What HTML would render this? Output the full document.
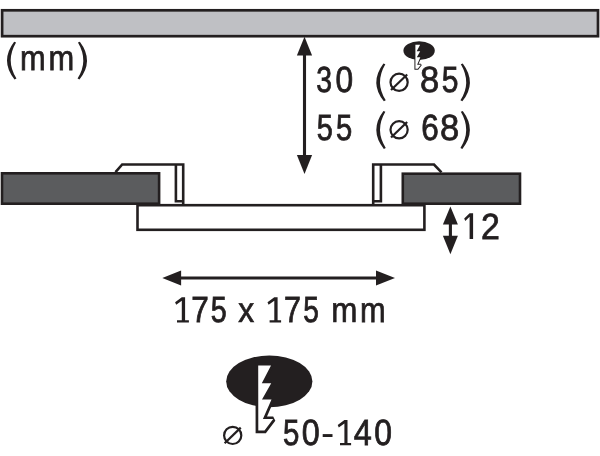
<!DOCTYPE html>
<html>
<head>
<meta charset="utf-8">
<title>Dimensions</title>
<style>
html,body{margin:0;padding:0;background:#fff;}
body{width:600px;height:456px;overflow:hidden;font-family:"Liberation Sans",sans-serif;}
svg{display:block;will-change:transform;}
text{font-family:"Liberation Sans",sans-serif;fill:#231f20;text-rendering:geometricPrecision;stroke:#231f20;}
</style>
</head>
<body>
<svg width="600" height="456" viewBox="0 0 600 456">
<rect width="600" height="456" fill="#ffffff"/>
<!-- ceiling -->
<rect x="2.1" y="10.3" width="595.9" height="25.9" fill="#bfc0c4" stroke="#231f20" stroke-width="2.7"/>

<!-- vertical arrow 30/55 -->
<line x1="304.5" y1="50" x2="304.5" y2="160" stroke="#231f20" stroke-width="3.1"/>
<polygon points="304.5,36.8 312.1,55.4 296.9,55.4" fill="#231f20"/>
<polygon points="304.5,173.9 312.1,154.9 296.9,154.9" fill="#231f20"/>

<!-- left dark block -->
<rect x="2" y="173.3" width="157.1" height="30.4" fill="#5b5c5e" stroke="#231f20" stroke-width="2.6"/>
<!-- left clip -->
<path d="M115.5,172.2 L122.2,164.5 L183.2,164.5 L183.2,205 M175.9,164.5 L175.9,201.3 L183.2,201.3" fill="none" stroke="#231f20" stroke-width="2.6"/>
<!-- right dark block -->
<rect x="402.8" y="173.7" width="117.2" height="30.0" fill="#5b5c5e" stroke="#231f20" stroke-width="2.6"/>
<!-- right clip -->
<path d="M441.5,172.4 L434,164.5 L373.2,164.5 L373.2,205 M380.9,164.5 L380.9,201.3 L373.2,201.3" fill="none" stroke="#231f20" stroke-width="2.6"/>
<!-- panel -->
<rect x="137.5" y="205.2" width="286.9" height="24.6" fill="#ffffff" stroke="#231f20" stroke-width="2.6"/>

<!-- 12 arrow -->
<line x1="450.4" y1="215" x2="450.4" y2="245" stroke="#231f20" stroke-width="3.1"/>
<polygon points="450.4,206.4 457.9,224.5 442.9,224.5" fill="#231f20"/>
<polygon points="450.4,254.3 457.9,235.8 442.9,235.8" fill="#231f20"/>

<!-- horizontal arrow -->
<line x1="175" y1="278" x2="384" y2="278" stroke="#231f20" stroke-width="2.9"/>
<polygon points="162.3,278 181.1,270.4 181.1,285.6" fill="#231f20"/>
<polygon points="395,278 376,270.4 376,285.6" fill="#231f20"/>

<!-- bottom saw symbol -->
<g>
<ellipse cx="269.3" cy="381.4" rx="43.1" ry="25.9" fill="#231f20"/>
<path d="M258.2,365.4 L271.0,365.4 L261.8,383.2 L271.2,383.2 L262.0,399.4 L271.5,399.4 L262.9,419.1 L273.2,419.1 L264.5,430.5 L258.3,430.5 Z" fill="none" stroke="#231f20" stroke-width="5.4" stroke-linejoin="miter" stroke-miterlimit="1.6"/>
<path d="M258.2,365.4 L271.0,365.4 L261.8,383.2 L271.2,383.2 L262.0,399.4 L271.5,399.4 L262.9,419.1 L273.2,419.1 L264.5,430.5 L258.3,430.5 Z" fill="#ffffff"/>
</g>

<!-- small saw symbol -->
<ellipse cx="419.1" cy="50.7" rx="15.7" ry="9.35" fill="#231f20"/>
<g transform="translate(419.5,50.7) scale(0.37) translate(-269.3,-381.4)">
<path d="M258.2,365.4 L271.0,365.4 L261.8,383.2 L271.2,383.2 L262.0,399.4 L271.5,399.4 L262.9,419.1 L273.2,419.1 L264.5,430.5 L258.3,430.5 Z" fill="none" stroke="#231f20" stroke-width="5.4" stroke-linejoin="miter" stroke-miterlimit="1.6"/>
<path d="M258.2,365.4 L271.0,365.4 L261.8,383.2 L271.2,383.2 L262.0,399.4 L271.5,399.4 L262.9,419.1 L273.2,419.1 L264.5,430.5 L258.3,430.5 Z" fill="#ffffff"/>
</g>

<!-- labels -->
<path transform="translate(-0.05,41.70) scale(1,0.9895) translate(0,-41.6)" d="M14.2,41.6 Q-0.3,61 14.6,79.8 L16.5,78.8 Q5.2,61 16.1,42.4 Z" fill="#231f20"/>
<text transform="translate(19.90,69.80) scale(0.8758,1)" font-size="35.2" stroke-width="0.75">m</text>
<text transform="translate(48.40,69.80) scale(0.8758,1)" font-size="35.2" stroke-width="0.75">m</text>
<path transform="translate(94.05,41.70) scale(-1,0.9895) translate(0,-41.6)" d="M14.2,41.6 Q-0.3,61 14.6,79.8 L16.5,78.8 Q5.2,61 16.1,42.4 Z" fill="#231f20"/>
<text transform="translate(316.29,92.10) scale(0.7793,1)" font-size="36.4" stroke-width="0.84">3</text>
<text transform="translate(335.44,92.10) scale(0.8707,1)" font-size="36.4" stroke-width="0.80">0</text>
<path transform="translate(369.25,63.40) scale(1,0.9921) translate(0,-41.6)" d="M14.2,41.6 Q-0.3,61 14.6,79.8 L16.5,78.8 Q5.2,61 16.1,42.4 Z" fill="#231f20"/>
<g fill="none" stroke="#231f20" stroke-width="2.2"><circle cx="399.1" cy="82.3" r="8.6"/><line x1="391.04" y1="90.08" x2="407.16" y2="74.52"/></g>
<text transform="translate(420.07,92.10) scale(0.9514,1)" font-size="36.4" stroke-width="0.77">8</text>
<text transform="translate(441.77,92.10) scale(0.8257,1)" font-size="36.4" stroke-width="0.82">5</text>
<path transform="translate(476.95,63.40) scale(-1,0.9921) translate(0,-41.6)" d="M14.2,41.6 Q-0.3,61 14.6,79.8 L16.5,78.8 Q5.2,61 16.1,42.4 Z" fill="#231f20"/>
<text transform="translate(316.71,139.70) scale(0.7967,1)" font-size="36.4" stroke-width="0.83">5</text>
<text transform="translate(335.91,139.70) scale(0.8025,1)" font-size="36.4" stroke-width="0.83">5</text>
<path transform="translate(369.25,111.00) scale(1,0.9921) translate(0,-41.6)" d="M14.2,41.6 Q-0.3,61 14.6,79.8 L16.5,78.8 Q5.2,61 16.1,42.4 Z" fill="#231f20"/>
<g fill="none" stroke="#231f20" stroke-width="2.2"><circle cx="399.1" cy="129.8" r="8.6"/><line x1="391.04" y1="137.58" x2="407.16" y2="122.02"/></g>
<text transform="translate(421.27,139.70) scale(0.8663,1)" font-size="36.4" stroke-width="0.80">6</text>
<text transform="translate(440.07,139.70) scale(0.9514,1)" font-size="36.4" stroke-width="0.77">8</text>
<path transform="translate(476.95,111.00) scale(-1,0.9921) translate(0,-41.6)" d="M14.2,41.6 Q-0.3,61 14.6,79.8 L16.5,78.8 Q5.2,61 16.1,42.4 Z" fill="#231f20"/>
<path d="M469.60,213.30 L473.10,213.30 L473.10,238.90 L469.60,238.90 L469.60,216.80 L465.30,220.90 L464.20,218.40 Z" fill="#231f20"/>
<text transform="translate(481.07,238.90) scale(0.9317,1)" font-size="36.4" stroke-width="0.78">2</text>
<path d="M181.80,297.20 L185.10,297.20 L185.10,322.50 L181.80,322.50 L181.80,300.70 L176.20,304.80 L175.10,302.30 Z M177.00,320.20 L188.90,320.20 L188.90,322.50 L177.00,322.50 Z" fill="#231f20"/>
<text transform="translate(191.36,322.30) scale(0.8672,1)" font-size="36.4" stroke-width="0.80">7</text>
<text transform="translate(210.82,322.30) scale(0.7909,1)" font-size="36.4" stroke-width="0.84">5</text>
<text transform="translate(238.29,322.10) scale(0.9033,1)" font-size="35.2" stroke-width="0.74">x</text>
<path d="M274.30,297.20 L277.60,297.20 L277.60,322.50 L274.30,322.50 L274.30,300.70 L268.60,304.80 L267.50,302.30 Z M269.60,320.20 L281.10,320.20 L281.10,322.50 L269.60,322.50 Z" fill="#231f20"/>
<text transform="translate(283.91,322.30) scale(0.8370,1)" font-size="36.4" stroke-width="0.82">7</text>
<text transform="translate(303.35,322.30) scale(0.7736,1)" font-size="36.4" stroke-width="0.85">5</text>
<text transform="translate(331.16,322.00) scale(0.8920,1)" font-size="35.2" stroke-width="0.74">m</text>
<text transform="translate(360.10,322.00) scale(0.8758,1)" font-size="35.2" stroke-width="0.75">m</text>
<text transform="translate(282.90,444.90) scale(0.8083,1)" font-size="36.4" stroke-width="0.83">5</text>
<text transform="translate(301.71,444.90) scale(0.8879,1)" font-size="36.4" stroke-width="0.79">0</text>
<rect x="322.7" y="434.1" width="9.8" height="2.9" fill="#231f20"/>
<path d="M344.40,419.90 L347.50,419.90 L347.50,445.20 L344.40,445.20 L344.40,423.40 L338.80,427.50 L337.70,425.00 Z M340.00,442.90 L351.10,442.90 L351.10,445.20 L340.00,445.20 Z" fill="#231f20"/>
<text transform="translate(353.73,444.90) scale(0.8914,1)" font-size="36.4" stroke-width="0.79">4</text>
<text transform="translate(374.13,444.90) scale(0.8764,1)" font-size="36.4" stroke-width="0.80">0</text>
<g fill="none" stroke="#231f20" stroke-width="2.2"><circle cx="232.7" cy="435.4" r="8.6"/><line x1="224.64" y1="443.18" x2="240.76" y2="427.62"/></g>
</svg>
</body>
</html>
